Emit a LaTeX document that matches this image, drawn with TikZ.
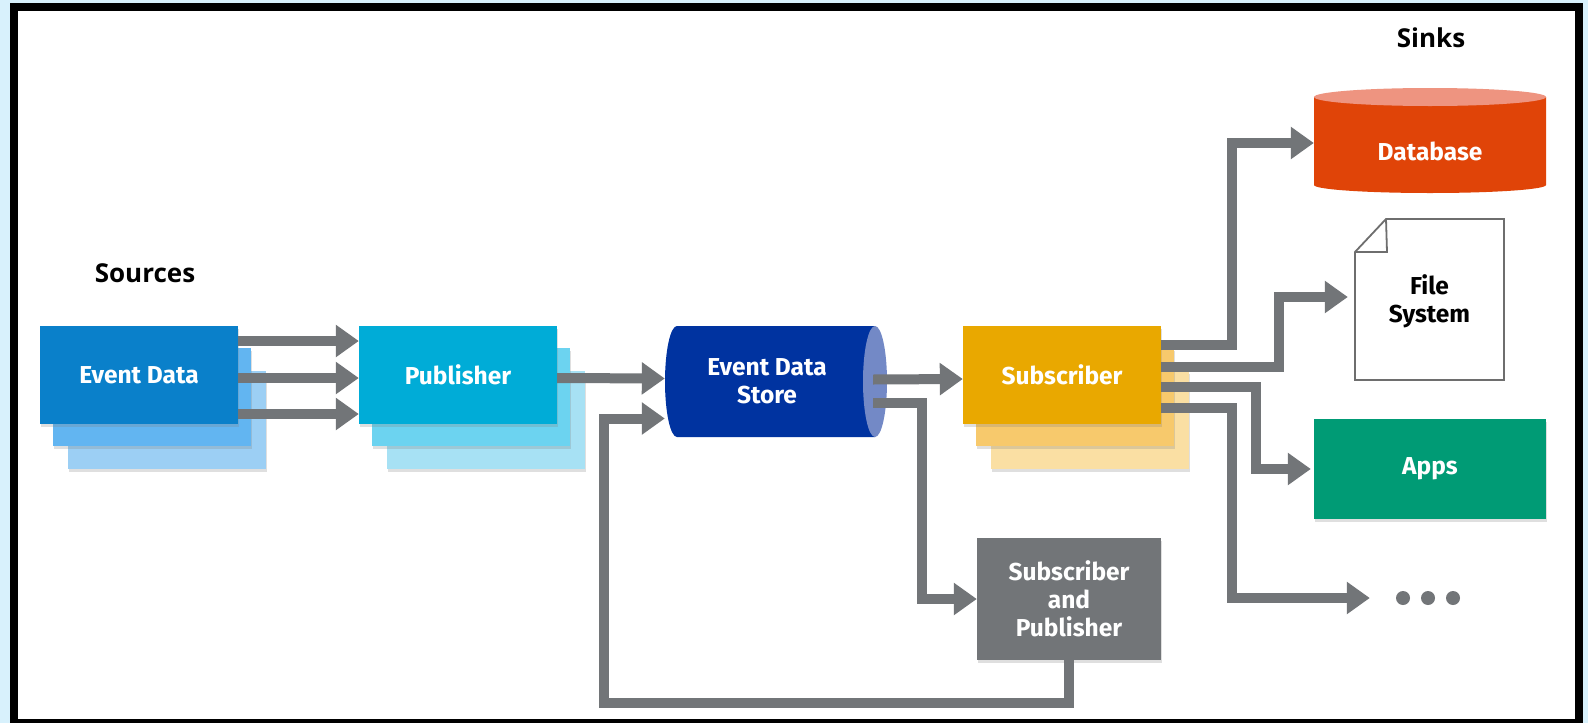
\documentclass[tikz,border=0pt]{standalone}
\usepackage{fontspec}
\setmainfont{Fira Sans}
\newfontfamily\headfont{Open Sans}
\usetikzlibrary{arrows.meta,shadows}

\definecolor{bgblue}{HTML}{D8F1FC}
\definecolor{evtF}{HTML}{0A80CA}
\definecolor{evtM}{HTML}{62B5F1}
\definecolor{evtB}{HTML}{9CCFF4}
\definecolor{pubF}{HTML}{00ACD7}
\definecolor{pubM}{HTML}{6CD3F0}
\definecolor{pubB}{HTML}{A7E1F4}
\definecolor{subF}{HTML}{E9A800}
\definecolor{subM}{HTML}{F7C96C}
\definecolor{subB}{HTML}{FADFA3}
\definecolor{storeF}{HTML}{0033A0}
\definecolor{storeC}{HTML}{7389C6}
\definecolor{flowgray}{HTML}{727578}
\definecolor{fileD}{HTML}{6E6E6E}
\definecolor{dbF}{HTML}{E04408}
\definecolor{dbT}{HTML}{EE9480}
\definecolor{appsF}{HTML}{009B75}

\newcommand\boxfont{\fontsize{24.5}{28}\selectfont\bfseries}

\tikzset{
  box/.style={minimum width=198pt,minimum height=98pt,inner sep=0pt,
    text=white,font=\boxfont,align=center},
  shade box/.style={drop shadow={opacity=.25,shadow xshift=1pt,shadow yshift=-2.5pt}},
  flow/.style={draw=flowgray,line width=10pt,-{Triangle[length=23pt,width=31pt]}},
  head/.style={font=\headfont\fontsize{26}{30}\selectfont\bfseries}
}

\begin{document}
\begin{tikzpicture}[x=1pt,y=-1pt]
    \path[use as bounding box] (0,0) rectangle (1588,723);
    \fill[bgblue] (0,0) rectangle (1588,723);
    \filldraw[fill=white,line width=8pt] (14,7) rectangle (1579,723);

    \node[head] (src) at (145,273) {Sources};
    \node[head] (snk) at (1431,38) {Sinks};

    % stacked boxes
    \foreach \nm/\cx/\cf/\cm/\cb/\txt in {evt/139/evtF/evtM/evtB/Event Data,
        pub/458/pubF/pubM/pubB/Publisher, sub/1062/subF/subM/subB/Subscriber}{
      \node[box,shade box,fill=\cb] at (\cx+28,375+45) {};
      \node[box,shade box,fill=\cm] at (\cx+13,375+22) {};
      \node[box,shade box,fill=\cf] (\nm) at (\cx,375) {\txt};
    }

    % event data store
    \fill[storeF] (677,326) -- (875,326) -- (875,437) -- (677,437)
      arc[start angle=90,end angle=270,x radius=12,y radius=55.5] -- cycle;
    \fill[storeC] (875,381.5) ellipse[x radius=12,y radius=55.5];
    \node[box,minimum width=204pt,minimum height=111pt] (store) at (767,381.5) {Event Data\\Store};

    \node[box,shade box,minimum width=184pt,minimum height=122pt,fill=flowgray] (subpub)
      at (1069,599) {Subscriber\\and\\Publisher};

    % sinks
    \fill[dbF] (1314,97) -- (1314,185)
      arc[start angle=180,end angle=0,x radius=116,y radius=8] -- (1546,97) -- cycle;
    \fill[dbT] (1430,97) ellipse[x radius=116,y radius=9];
    \node[box,minimum width=232pt,minimum height=88pt] (db) at (1430,151) {Database};

    \filldraw[fill=white,draw=fileD,line width=1.8pt] (1386,219) -- (1504,219)
      -- (1504,380) -- (1355,380) -- (1355,252) -- cycle;
    \draw[fileD,line width=1.8pt] (1355,252) -- (1387,252) -- (1386,219);
    \node[box,text=black,minimum width=149pt,minimum height=161pt] (fil) at (1429.5,301) {File\\System};

    \node[box,shade box,minimum width=232pt,minimum height=100pt,fill=appsF] (apps)
      at (1430,469) {Apps};

    \node[minimum width=62pt,minimum height=16pt] (dots) at (1428,598) {};
    \foreach \dx in {-25,0,25}
      \fill[flowgray] ([xshift=\dx pt]dots.center) circle (7pt);

    % connectors
    \foreach \dy in {34,-3,-39}
      \draw[flow] ([yshift=\dy pt]evt.east) -- ([yshift=\dy pt]pub.west);
    \draw[flow] ([yshift=-3pt]pub.east) -- ([yshift=3pt]store.west);
    \draw[flow] ([xshift=4pt,yshift=2pt]store.east) -- ([yshift=-4pt]sub.west);
    \draw[flow] ([xshift=4pt,yshift=-21pt]store.east) -| ([xshift=-55pt]subpub.west)
      -- (subpub.west);
    \draw[flow] (subpub.south) -- ++(0,43) -| ([xshift=-61pt,yshift=-37pt]store.west)
      -- ([yshift=-37pt]store.west);

    \draw[flow] ([yshift=30pt]sub.east) -| ([xshift=-82pt,yshift=8pt]db.west)
      -- ([yshift=8pt]db.west);
    \draw[flow] ([yshift=8pt]sub.east) -| ([xshift=-76pt,yshift=4pt]fil.west)
      -- ([xshift=-7pt,yshift=4pt]fil.west);
    \draw[flow] ([yshift=-12pt]sub.east) -| ([xshift=-58pt]apps.west)
      -- ([xshift=-3pt]apps.west);
    \draw[flow] ([yshift=-33pt]sub.east) -| ([xshift=-165pt]dots.west)
      -- ([xshift=-27pt]dots.west);
\end{tikzpicture}
\end{document}
